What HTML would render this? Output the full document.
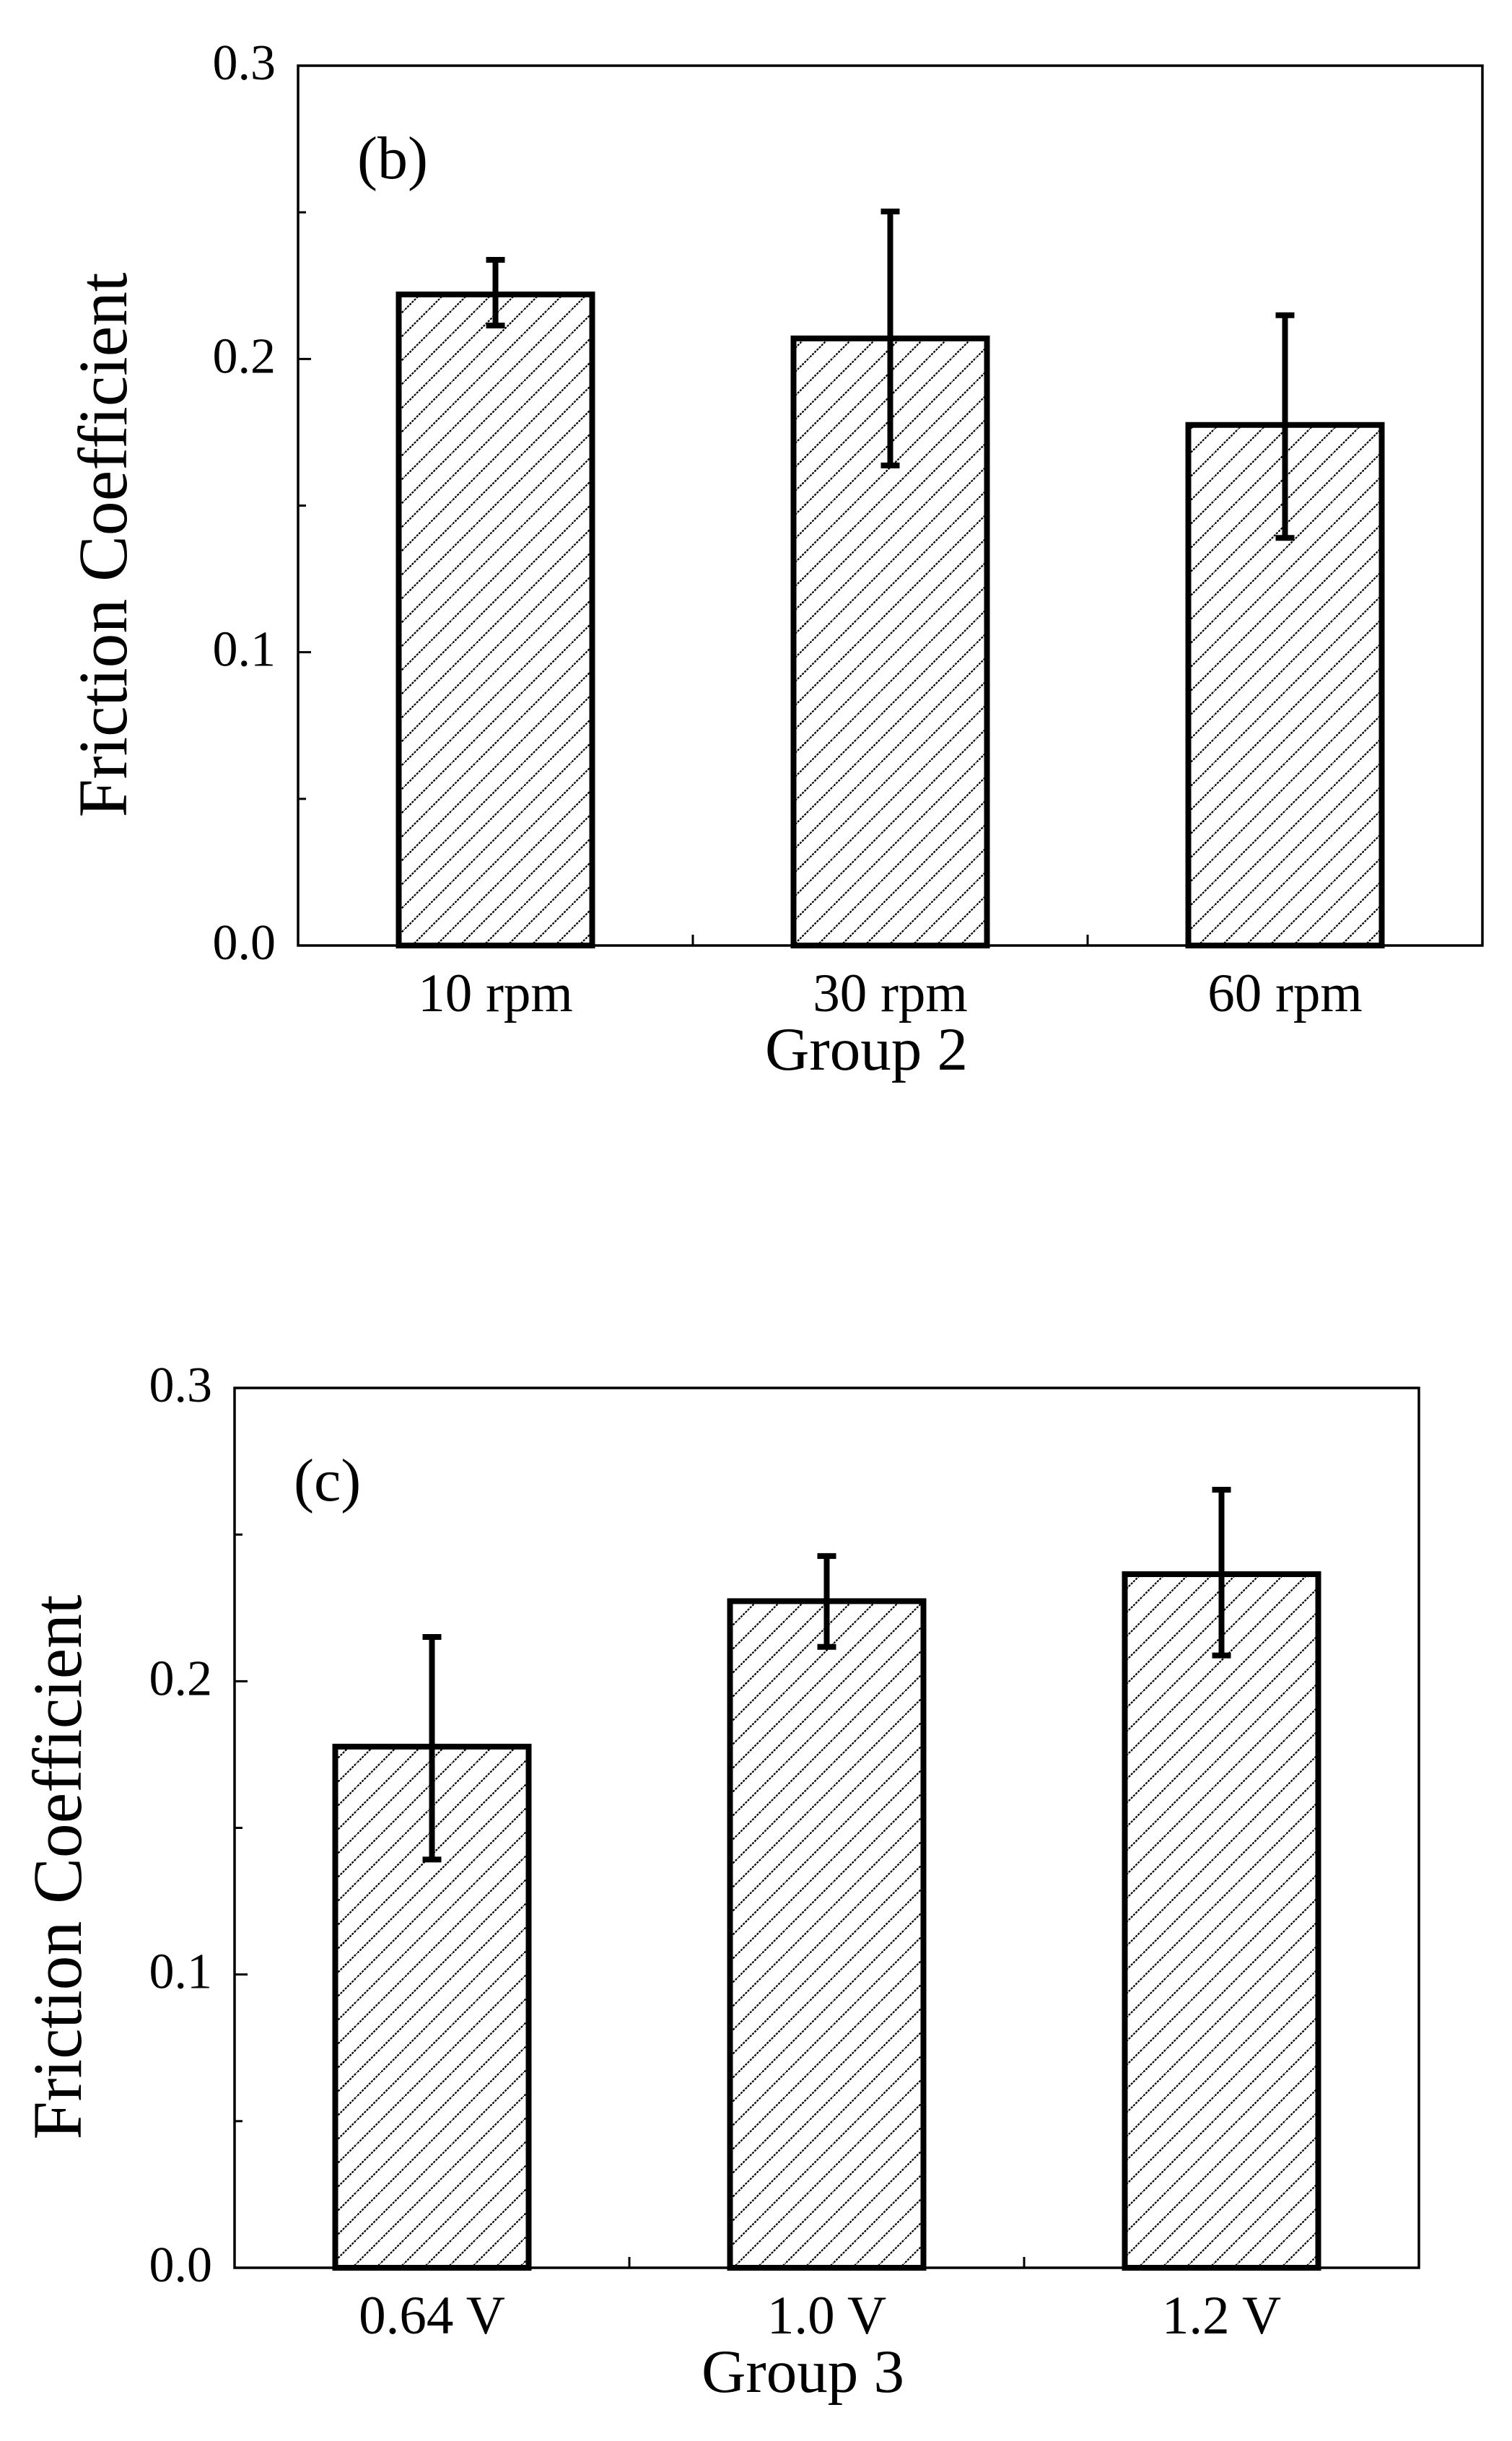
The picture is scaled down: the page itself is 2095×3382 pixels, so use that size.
<!DOCTYPE html>
<html>
<head>
<meta charset="utf-8">
<style>
html,body{margin:0;padding:0;background:#fff;}
svg{display:block;}
text{font-family:"Liberation Serif","DejaVu Serif",serif;fill:#000;}
</style>
</head>
<body>
<svg id="fig" width="2095" height="3382" viewBox="0 0 2095 3382" xmlns="http://www.w3.org/2000/svg">
<defs>
<pattern id="hatch" patternUnits="userSpaceOnUse" width="33" height="33">
<line x1="-3" y1="36" x2="36" y2="-3" stroke="#000" stroke-width="2.2" stroke-dasharray="3 1.5"/>
</pattern>
</defs>
</svg>
<script>
// Panel (b) data
const catsB = ["10 rpm", "30 rpm", "60 rpm"];
const valsB = [0.222, 0.207, 0.1775];
const errHiB = [0.2338, 0.2503, 0.2149];
const errLoB = [0.2114, 0.1637, 0.139];
// Panel (c) data
const catsC = ["0.64 V", "1.0 V", "1.2 V"];
const valsC = [0.1777, 0.2273, 0.2365];
const errHiC = [0.2151, 0.2427, 0.2653];
const errLoC = [0.1392, 0.2117, 0.2088];
// shared axis
const yTicks = [0.0, 0.1, 0.2, 0.3];
const yTickLabels = ["0.0", "0.1", "0.2", "0.3"];
const yMinor = [0.05, 0.15, 0.25];

const NS = "http://www.w3.org/2000/svg";
const svg = document.getElementById("fig");
function mk(tag, attrs, parent) {
  const e = document.createElementNS(NS, tag);
  for (const k in attrs) e.setAttribute(k, attrs[k]);
  (parent || svg).appendChild(e);
  return e;
}

function drawPanel(o) {
  const g = mk("g", {});
  
  
  const L = o.left, T = o.top, W = 1641, H = 1219, B = T + H;
  const y = v => B - (v / 0.3) * H;
  const n = o.cats.length;
  const x = i => L + (2 * i + 1) * W / (2 * n);

  // bars
  for (let i = 0; i < n; i++) {
    const r = mk("rect", {x: x(i) - 134, y: y(o.vals[i]), width: 268, height: B - y(o.vals[i]), fill: "url(#hatch)", stroke: "#000", "stroke-width": 8}, g);
    
    
  }
  // error bars
  for (let i = 0; i < n; i++) {
    const eg = mk("g", {stroke: "#000", "stroke-width": 8}, g);
    
    
    mk("line", {x1: x(i), x2: x(i), y1: y(o.hi[i]), y2: y(o.lo[i])}, eg);
    mk("line", {x1: x(i) - 13, x2: x(i) + 13, y1: y(o.hi[i]), y2: y(o.hi[i])}, eg);
    mk("line", {x1: x(i) - 13, x2: x(i) + 13, y1: y(o.lo[i]), y2: y(o.lo[i])}, eg);
  }
  // frame
  const f = mk("rect", {x: L, y: T, width: W, height: H, fill: "none", stroke: "#000", "stroke-width": 3.5}, g);
  
  
  // y ticks
  for (let k = 0; k < yTicks.length; k++) {
    const yy = y(yTicks[k]);
    mk("line", {x1: L, x2: L + 18, y1: yy, y2: yy, stroke: "#000", "stroke-width": 3}, g);
    const t = mk("text", {x: L - 31, y: yy + 19, "font-size": 70, "text-anchor": "end"}, g);
    t.textContent = yTickLabels[k];
    
    
  }
  for (let k = 0; k < yMinor.length; k++) {
    const yy = y(yMinor[k]);
    mk("line", {x1: L, x2: L + 11, y1: yy, y2: yy, stroke: "#000", "stroke-width": 3}, g);
  }
  // x ticks between categories
  for (let i = 1; i < n; i++) {
    const xx = L + i * W / n;
    mk("line", {x1: xx, x2: xx, y1: B, y2: B - 15, stroke: "#000", "stroke-width": 3}, g);
  }
  // x labels
  for (let i = 0; i < n; i++) {
    const t = mk("text", {x: x(i), y: B + 91, "font-size": 75, "text-anchor": "middle"}, g);
    t.textContent = o.cats[i];
    
    
  }
  // x title
  const xt = mk("text", {x: L + W / 2 - 33, y: B + 172, "font-size": 85, "text-anchor": "middle"}, g);
  xt.textContent = o.xTitle;
  
  
  // y title
  const yt = mk("text", {x: 0, y: 0, "font-size": 96, "text-anchor": "middle", textLength: 755, lengthAdjust: "spacingAndGlyphs", transform: "translate(" + o.yTitleX + "," + (T + 664) + ") rotate(-90)"}, g);
  yt.textContent = "Friction Coefficient";
  
  
  // panel label
  const pl = mk("text", {x: L + 82, y: T + 156, "font-size": 84}, g);
  pl.textContent = o.label;
  
  
}

drawPanel({name: "chart-b", left: 413, top: 91, cats: catsB, vals: valsB, hi: errHiB, lo: errLoB, xTitle: "Group 2", label: "(b)", yTitleX: 175});
drawPanel({name: "chart-c", left: 325, top: 1923, cats: catsC, vals: valsC, hi: errHiC, lo: errLoC, xTitle: "Group 3", label: "(c)", yTitleX: 112});
</script>
</body>
</html>
